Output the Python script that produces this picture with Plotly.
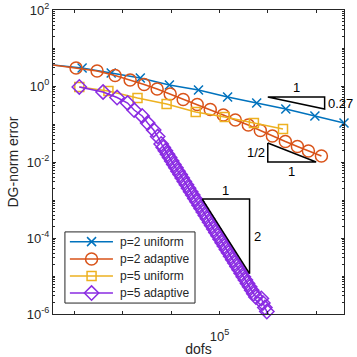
import numpy as np
import plotly.graph_objects as go

# p=2 uniform
p2u_dofs = [36, 144, 576, 2304, 9216, 36864, 147456, 589824, 2359296, 9437184, 37748736]
p2u_err = [3.57, 2.98, 2.2, 1.63, 1.06, 0.785, 0.514, 0.357, 0.248, 0.163, 0.106]

# p=2 adaptive
p2a_dofs = [36, 108, 294, 693, 1419, 2767, 5140, 9570, 17780, 34670, 64570, 120000,
            212800, 395400, 701500, 1245000, 2312000, 4100000, 6930000, 12880000]
p2a_err = [3.57, 2.98, 2.48, 1.89, 1.44, 1.09, 0.834, 0.615, 0.442, 0.326, 0.241, 0.173,
           0.127, 0.0942, 0.0675, 0.0483, 0.0346, 0.0256, 0.0195, 0.0144]

# p=5 uniform
p5u_dofs = [126, 504, 2016, 8064, 32256, 129024, 516096, 2064384]
p5u_err = [0.942, 0.738, 0.483, 0.336, 0.207, 0.153, 0.106, 0.0738]

# p=5 adaptive
p5a_dofs = [126, 391, 762, 1259, 1718, 2518, 3273, 4357, 5275,
            6230, 6887, 7614, 8417, 9305, 10287, 11372, 12572, 13898, 15364,
            16985, 18777, 20758, 22948, 25369, 28045, 31004, 34275, 37891, 41888,
            46308, 51193, 56594, 62565, 69165, 76462, 84529, 93447, 103305, 114204,
            126253, 139572, 154297, 170575, 188571, 208466, 230459, 254773, 281651,
            311365, 344214, 380529, 420674, 465055, 514118, 568357,
            736000, 790700, 869700, 956000, 1052000, 1158000]
p5a_err = [0.942, 0.695, 0.498, 0.357, 0.233, 0.163, 0.106, 0.0695, 0.0469,
           0.0298, 0.02425, 0.01973, 0.01606, 0.01307, 0.01063, 0.00865, 0.00704, 0.00573, 0.00466,
           0.00379, 0.00309, 0.00251, 0.00204, 0.00166, 0.00135, 0.0011, 0.000896, 0.000729, 0.000593,
           0.000483, 0.000393, 0.00032, 0.00026, 0.000212, 0.000172, 0.00014, 0.000114, 9.28e-5, 7.55e-5,
           6.14e-5, 5.0e-5, 4.07e-5, 3.31e-5, 2.69e-5, 2.19e-5, 1.78e-5, 1.45e-5, 1.18e-5,
           9.61e-6, 7.82e-6, 6.36e-6, 5.18e-6, 4.21e-6, 3.43e-6, 2.79e-6,
           2.56e-6, 1.95e-6, 1.48e-6, 1.16e-6, 9.4e-7, 7.85e-7]

# slope triangles (corner values)
tri1_x = [1.0e6, 1.5e7]
tri1_y = [0.514, 0.247]
tri2_x = [1.0e6, 1.0e7]
tri2_y = [0.0316, 0.01]
tri3_x = [4.4e4, 4.2e5]
tri3_y = [1.06e-3, 1.15e-5]

FONT = "Liberation Sans, Arial, sans-serif"
AX = "#262626"

fig = go.Figure()

series = [
    (p2u_dofs, p2u_err, 'p=2 uniform', '#0072BD', 'x-thin-open', 9),
    (p2a_dofs, p2a_err, 'p=2 adaptive', '#D95319', 'circle-open', 12),
    (p5u_dofs, p5u_err, 'p=5 uniform', '#EDB120', 'square-open', 9),
    (p5a_dofs, p5a_err, 'p=5 adaptive', '#8A2BE2', 'diamond-open', 11),
]
for xs, ys, name, col, sym, sz in series:
    fig.add_trace(go.Scatter(x=xs, y=ys, name=name, mode='lines+markers',
                             line=dict(color=col, width=1.5),
                             marker=dict(symbol=sym, size=sz, color=col,
                                         line=dict(color=col, width=1.5)),
                             cliponaxis=False, showlegend=False))

# triangle 1: top edge, right edge, hypotenuse
fig.add_trace(go.Scatter(x=[tri1_x[0], tri1_x[1], tri1_x[1], tri1_x[0]],
                         y=[tri1_y[0], tri1_y[0], tri1_y[1], tri1_y[0]],
                         mode='lines', line=dict(color='black', width=1.5),
                         showlegend=False, hoverinfo='skip'))
# triangle 2: left edge, bottom edge, hypotenuse
fig.add_trace(go.Scatter(x=[tri2_x[0], tri2_x[0], tri2_x[1], tri2_x[0]],
                         y=[tri2_y[0], tri2_y[1], tri2_y[1], tri2_y[0]],
                         mode='lines', line=dict(color='black', width=1.5),
                         showlegend=False, hoverinfo='skip'))
# triangle 3
fig.add_trace(go.Scatter(x=[tri3_x[0], tri3_x[1], tri3_x[1], tri3_x[0]],
                         y=[tri3_y[0], tri3_y[0], tri3_y[1], tri3_y[0]],
                         mode='lines', line=dict(color='black', width=1.5),
                         showlegend=False, hoverinfo='skip'))

lg = np.log10


def gmean(a, b):
    return (lg(a) + lg(b)) / 2


annots = [
    dict(x=gmean(*tri1_x), y=lg(tri1_y[0]), text='1', yshift=9, xanchor='center'),
    dict(x=lg(tri1_x[1]), y=gmean(*tri1_y), text='0.27', xshift=1, xanchor='left'),
    dict(x=lg(tri2_x[0]), y=gmean(*tri2_y), text='1/2', xshift=-1, xanchor='right'),
    dict(x=gmean(*tri2_x), y=lg(tri2_y[1]), text='1', yshift=-9, xanchor='center'),
    dict(x=gmean(*tri3_x), y=lg(tri3_y[0]), text='1', yshift=9, xanchor='center'),
    dict(x=lg(tri3_x[1]), y=gmean(*tri3_y), text='2', xshift=2, xanchor='left'),
]
for a in annots:
    fig.add_annotation(xref='x', yref='y', showarrow=False,
                       font=dict(family=FONT, size=13, color='black'), **a)

# hand-made legend drawn on a hidden overlay axis (0..1 over the plot area)
leg_x0, leg_x1, leg_y0, leg_y1 = 0.041, 0.488, 0.036, 0.270
leg_rows = [0.238, 0.181, 0.125, 0.069]
fig.add_shape(type='rect', xref='paper', yref='paper',
              x0=leg_x0, x1=leg_x1, y0=leg_y0, y1=leg_y1,
              line=dict(color=AX, width=1), fillcolor='white', layer='below')
for (xs, ys, name, col, sym, sz), ry in zip(series, leg_rows):
    fig.add_trace(go.Scatter(x=[0.058, 0.206], y=[ry, ry], mode='lines',
                             line=dict(color=col, width=1.5), xaxis='x2', yaxis='y2',
                             showlegend=False, hoverinfo='skip'))
    fig.add_trace(go.Scatter(x=[0.1325], y=[ry], mode='markers',
                             marker=dict(symbol=sym, size=sz, color=col,
                                         line=dict(color=col, width=1.5)),
                             xaxis='x2', yaxis='y2', cliponaxis=False,
                             showlegend=False, hoverinfo='skip'))
    fig.add_annotation(xref='paper', yref='paper', x=0.222, y=ry, text=name,
                       showarrow=False, xanchor='left', yanchor='middle',
                       font=dict(family=FONT, size=12, color=AX))

xt = [1e2, 1e3, 1e4, 1e5, 1e6, 1e7]
xt_text = ['', '', '', '10<sup>5</sup>', '', '']
yt = [1e-6, 1e-4, 1e-2, 1e0, 1e2]
yt_text = ['10<sup>-6</sup>', '10<sup>-4</sup>', '10<sup>-2</sup>', '10<sup>0</sup>', '10<sup>2</sup>']
ymin = [m * 10.0 ** e for e in range(-6, 2) for m in range(1, 10)
        if not (m == 1 and e % 2 == 0)]

xaxis = dict(type='log', range=[lg(36), lg(37748736)],
             tickvals=xt, ticktext=xt_text, ticks='inside', ticklen=3,
             tickcolor=AX, showline=True, linecolor=AX, linewidth=1,
             mirror='ticks', showgrid=False, zeroline=False, automargin=False,
             ticklabelstandoff=10,
             tickfont=dict(family=FONT, size=13, color=AX),
             title=dict(text='dofs', font=dict(family=FONT, size=14, color=AX),
                        standoff=2))
yaxis = dict(type='log', range=[-6, 2],
             tickvals=yt, ticktext=yt_text, ticks='inside', ticklen=3,
             tickcolor=AX, showline=True, linecolor=AX, linewidth=1,
             mirror='ticks', showgrid=False, zeroline=False, automargin=False,
             minor=dict(tickvals=ymin, ticks='inside', ticklen=2, tickcolor=AX),
             tickfont=dict(family=FONT, size=13, color=AX),
             title=dict(text='DG-norm error', font=dict(family=FONT, size=14, color=AX),
                        standoff=4))

fig.update_layout(width=357, height=357,
                  margin=dict(l=53, r=13, t=10, b=43),
                  plot_bgcolor='white', paper_bgcolor='white',
                  showlegend=False,
                  xaxis=xaxis, yaxis=yaxis,
                  xaxis2=dict(overlaying='x', anchor='y2', range=[0, 1], visible=False),
                  yaxis2=dict(overlaying='y', anchor='x2', range=[0, 1], visible=False))

fig.write_html("out.html", config={'displayModeBar': False},
               post_script="document.body.style.margin='0';")
